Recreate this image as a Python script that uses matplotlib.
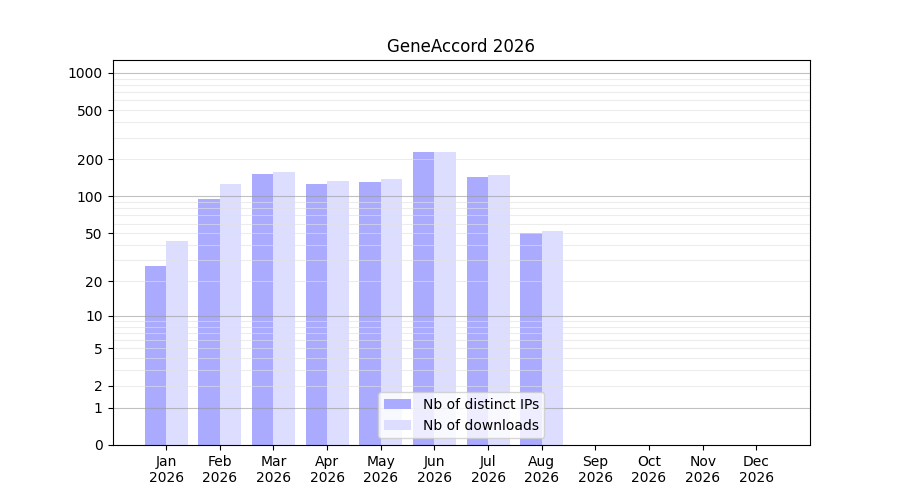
import numpy as np
import matplotlib
matplotlib.use("Agg")
import matplotlib.pyplot as plt
from matplotlib.ticker import FixedLocator, FixedFormatter, NullFormatter

months = ["Jan", "Feb", "Mar", "Apr", "May", "Jun", "Jul", "Aug", "Sep", "Oct", "Nov", "Dec"]
year = "2026"
distinct_ips = [27, 95, 152, 126, 131, 230, 144, 50]
downloads = [43, 126, 158, 134, 139, 230, 150, 52]
ytick_vals = [0, 1, 2, 5, 10, 20, 50, 100, 200, 500, 1000]

def fwd(y):
    return np.log10(np.clip(y, 0, None) + 1)

def inv(y):
    return 10 ** y - 1

fig, ax = plt.subplots(figsize=(9, 5), dpi=100)
ax.set_yscale('function', functions=(fwd, inv))

x = np.arange(len(distinct_ips))
w = 0.4
ax.bar(x - w / 2, distinct_ips, width=w, color='#aaaaff', label='Nb of distinct IPs', zorder=1)
ax.bar(x + w / 2, downloads, width=w, color='#ddddff', label='Nb of downloads', zorder=1)

ax.set_xlim(-1, 12)
ax.set_ylim(0, 1270)
ax.set_xticks(np.arange(12))
ax.set_xticklabels([f"{m}\n{year}" for m in months])

ax.yaxis.set_major_locator(FixedLocator(ytick_vals))
ax.yaxis.set_major_formatter(FixedFormatter([str(v) for v in ytick_vals]))
minor = [m * 10 ** d for d in range(0, 3) for m in range(2, 10)]
ax.yaxis.set_minor_locator(FixedLocator(minor))
ax.yaxis.set_minor_formatter(NullFormatter())
ax.tick_params(axis='y', which='minor', length=0)

for v in minor:
    ax.axhline(v, color='#e0e0e0', linewidth=0.8, alpha=0.6, zorder=2)
for v in [1, 10, 100, 1000]:
    ax.axhline(v, color='#999999', linewidth=0.8, alpha=0.6, zorder=2)

ax.set_title("GeneAccord 2026")
ax.legend(loc='lower center')
fig.savefig("out.png", dpi=100)
